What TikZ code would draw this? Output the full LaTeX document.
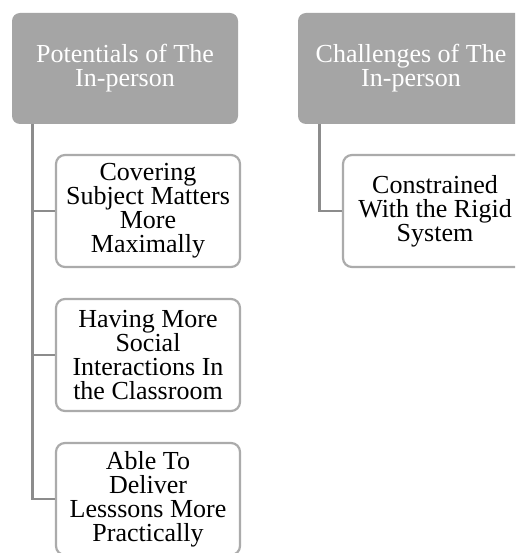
\documentclass[tikz,border=0pt]{standalone}
\usepackage{fontspec}
\setmainfont{Liberation Serif}

\definecolor{headfill}{HTML}{A5A5A5}
\definecolor{boxline}{HTML}{ABABAB}
\definecolor{treeline}{HTML}{8C8C8C}

\tikzset{
	headbox/.style={rectangle, rounded corners=8pt, fill=headfill, text=white,
		minimum width=226pt, minimum height=111pt, inner sep=0pt, align=center,
		font=\fontsize{26}{24}\selectfont},
	itembox/.style={rectangle, rounded corners=9pt, draw=boxline, line width=2.2pt,
		fill=white, minimum width=184pt, minimum height=112pt, inner sep=0pt,
		align=center, font=\fontsize{26}{24}\selectfont},
	branch/.style={draw=treeline, line width=2.7pt}
}

\begin{document}
\begin{tikzpicture}[x=1pt, y=-1pt]
	\clip (0,0) rectangle (515,553);
	\fill[white] (0,0) rectangle (515,553);

	% the two headings
	\node[headbox] (pot) at (125,68.5) {Potentials of The\\In-person};
	\node[headbox] (chal) at (411,68.5) {Challenges of The\\In-person};

	\coordinate (potroot) at ([xshift=21pt]pot.south west);
	\coordinate (chalroot) at ([xshift=22pt]chal.south west);

	% potentials
	\foreach \t [count=\i from 0] in {{Covering\\Subject Matters\\More\\Maximally},
			{Having More\\Social\\Interactions In\\the Classroom},
			{Able To\\Deliver\\Lesssons More\\Practically}} {
		\node[itembox] (pot\i) at (148,211+144*\i) {\t};
		\draw[branch] (potroot) |- (pot\i.west);
	}

	% challenges
	\node[itembox] (chal0) at (435,211) {Constrained\\With the Rigid\\System};
	\draw[branch] (chalroot) |- (chal0.west);
\end{tikzpicture}
\end{document}
